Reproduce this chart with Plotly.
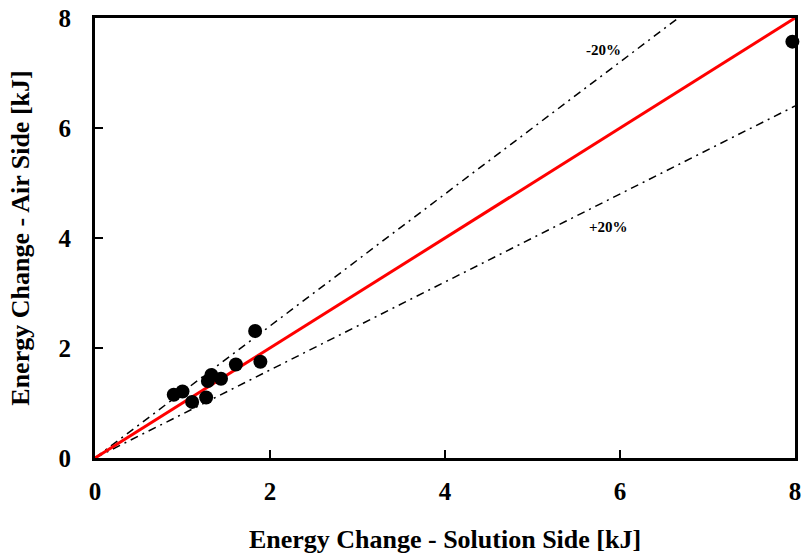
import plotly.graph_objects as go

# Data
solution_side = [0.90, 1.00, 1.11, 1.27, 1.29, 1.33, 1.44, 1.61, 1.83, 1.89, 7.97]
air_side = [1.15, 1.21, 1.02, 1.10, 1.40, 1.51, 1.44, 1.70, 2.31, 1.75, 7.57]

line_x = [0, 8]
perfect_factor = 1.0
upper_factor = 1.2
lower_factor = 0.8

tick_vals = [0, 2, 4, 6, 8]
tick_text = ["0", "2", "4", "6", "8"]

font_family = "Liberation Serif"

fig = go.Figure()

fig.add_trace(go.Scatter(
    x=line_x, y=[v * upper_factor for v in line_x], mode="lines",
    line=dict(color="black", width=1.5, dash="8px,5px,2px,5px"),
    showlegend=False, hoverinfo="skip"))
fig.add_trace(go.Scatter(
    x=line_x, y=[v * lower_factor for v in line_x], mode="lines",
    line=dict(color="black", width=1.5, dash="8px,5px,2px,5px"),
    showlegend=False, hoverinfo="skip"))
fig.add_trace(go.Scatter(
    x=line_x, y=[v * perfect_factor for v in line_x], mode="lines",
    line=dict(color="#ff0000", width=3),
    showlegend=False, hoverinfo="skip"))
fig.add_trace(go.Scatter(
    x=solution_side, y=air_side, mode="markers",
    marker=dict(color="black", size=14),
    cliponaxis=False, showlegend=False))

fig.add_annotation(x=5.81, y=7.42, text="-20%", showarrow=False,
                   font=dict(family=font_family, size=15, color="black", weight="bold"))
fig.add_annotation(x=5.87, y=4.2, text="+20%", showarrow=False,
                   font=dict(family=font_family, size=15, color="black", weight="bold"))

axis_common = dict(
    range=[0, 8], tickvals=tick_vals, ticktext=tick_text,
    showgrid=False, zeroline=False, automargin=False,
    ticklabeloverflow="allow",
    showline=True, linecolor="black", linewidth=3, mirror=True,
    ticks="inside", ticklen=8, tickwidth=1.5, tickcolor="black",
    tickfont=dict(family=font_family, size=25, color="black", weight="bold"),
    title_font=dict(family=font_family, size=26, color="black", weight="bold"),
)

fig.update_xaxes(**axis_common,
                 title_text="Energy Change - Solution Side [kJ]",
                 title_standoff=33, ticklabelstandoff=9)
fig.update_yaxes(**axis_common,
                 title_text="Energy Change - Air Side [kJ]",
                 title_standoff=22, ticklabelstandoff=16)

fig.update_layout(
    width=804, height=554,
    margin=dict(l=95, r=9, t=18, b=96),
    plot_bgcolor="white", paper_bgcolor="white",
    font=dict(family=font_family, color="black"),
)

fig.write_html("out.html")
